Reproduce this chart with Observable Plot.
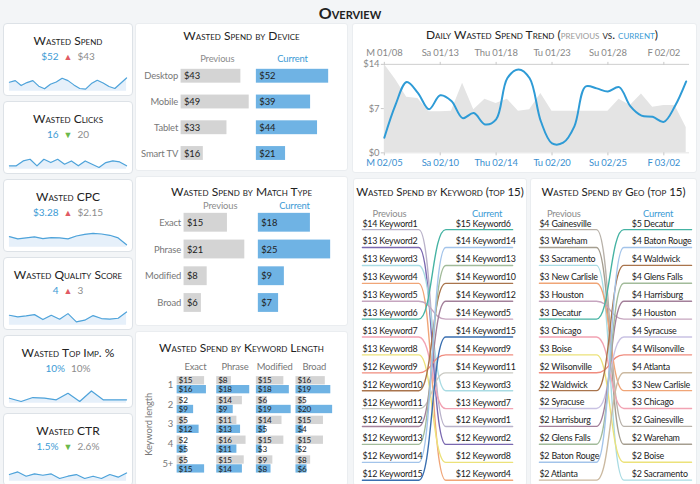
<!DOCTYPE html>
<html>
<head>
<meta charset="utf-8">
<script src="https://cdn.jsdelivr.net/npm/d3@7"></script>
<script src="https://cdn.jsdelivr.net/npm/@observablehq/plot@0.6"></script>
<style>
  html,body{margin:0;padding:0}
  body{width:700px;height:484px;background:#f3f5f7;font-family:Lato,"Open Sans",sans-serif;position:relative;overflow:hidden;color:#222}
  .panel{position:absolute;background:#fff;border:1px solid #eaedf0;box-sizing:border-box;border-radius:3px}
  .kpi{border-color:#dde2e7;border-radius:4px}
  .ptitle{position:absolute;left:0;right:0;text-align:center;font-variant:small-caps;font-size:12px;line-height:14px;color:#222;white-space:nowrap}
  .kval{position:absolute;left:0;right:0;text-align:center;font-size:10px;line-height:12px;white-space:nowrap}
  .panel svg{position:absolute;overflow:visible}
  #maintitle{position:absolute;left:0;width:700px;top:4px;text-align:center;font-variant:small-caps;font-size:16px;font-weight:700;line-height:18px;color:#222}
</style>
</head>
<body>
<div id="maintitle">Overview</div>
<script>
// ---------------- DATA ----------------
const seriesNames = ["Previous", "Current"];

const kpiNames = ["Wasted Spend", "Wasted Clicks", "Wasted CPC", "Wasted Quality Score", "Wasted Top Imp. %", "Wasted CTR"];
const kpiCurrent = ["$52", "16", "$3.28", "4", "10%", "1.5%"];
const kpiPrevious = ["$43", "20", "$2.15", "3", "10%", "2.6%"];
const kpiTrend = ["up", "down", "up", "up", "flat", "down"];
const sparkSpend = [27, 32, 17, 26, 32, 15, 7, 21, 28, 39, 32, 19, 8, 6, 23, 33, 25, 14, 8, 24, 40];
const sparkClicks = [10, 10, 25, 30, 10, 30, 20, 30, 15, 25, 10, 25, 15, 5, 20, 25, 22, 10];
const sparkCpc = [32, 25, 28, 31, 26, 29, 28, 25, 34, 39, 42, 40, 36, 28, 7];
const sparkQuality = [30, 25, 28, 32, 17, 30, 18, 35, 10, 15, 29, 20, 18, 21, 40];
const sparkTopImp = [15, 5, 17, 15, 10, 30, 5, 37, 10, 10, 10];
const sparkCtr = [20, 28, 15, 22, 18, 22, 8, 15, 20, 8, 15, 8, 20, 12, 25];

const devices = ["Desktop", "Mobile", "Tablet", "Smart TV"];
const devicePrev = [43, 49, 33, 16];
const deviceCur = [52, 39, 44, 21];

const matchTypes = ["Exact", "Phrase", "Modified", "Broad"];
const matchPrev = [15, 21, 8, 6];
const matchCur = [18, 25, 9, 7];

const kwLengths = ["1", "2", "3", "4", "5+"];
const lenPrevExact = [15, 2, 5, 2, 5];
const lenCurExact = [16, 9, 12, 5, 15];
const lenPrevPhrase = [8, 14, 11, 16, 15];
const lenCurPhrase = [18, 9, 13, 11, 14];
const lenPrevModified = [15, 6, 14, 15, 9];
const lenCurModified = [18, 19, 5, 3, 8];
const lenPrevBroad = [16, 5, 15, 15, 8];
const lenCurBroad = [19, 20, 4, 2, 6];

const prevDaily = [14.0, 11.6, 8.8, 8.6, 6.5, 6.5, 6.6, 11.0, 6.8, 8.5, 7.8, 8.5, 6.6, 6.8, 9.4, 6.6, 6.6, 6.6, 6.6, 6.6, 6.6, 8.5, 7.5, 9.3, 7.2, 7.5, 7.5, 4.0];
const curDaily = [2.4, 7.6, 11.2, 9.5, 6.9, 9.1, 8.2, 5.5, 6.3, 4.5, 5.3, 11.8, 13.2, 11.8, 5.0, 1.5, 1.6, 4.2, 10.5, 10.2, 9.7, 10.4, 7.4, 5.9, 5.7, 4.9, 7.4, 11.3];
const trendTickDays = [0, 5, 10, 15, 20, 25];
const prevTickLabels = ["M 01/08", "Sa 01/13", "Thu 01/18", "Tu 01/23", "Su 01/28", "F 02/02"];
const curTickLabels = ["M 02/05", "Sa 02/10", "Thu 02/14", "Tu 02/20", "Su 02/25", "F 03/02"];
const trendYTicks = [0, 7, 14];

const kwPrevNames = ["Keyword1", "Keyword2", "Keyword3", "Keyword4", "Keyword5", "Keyword6", "Keyword7", "Keyword8", "Keyword9", "Keyword10", "Keyword11", "Keyword12", "Keyword13", "Keyword14", "Keyword15"];
const kwPrevValues = [14, 13, 13, 13, 13, 13, 13, 13, 12, 12, 12, 12, 12, 12, 12];
const kwCurNames = ["Keyword6", "Keyword14", "Keyword13", "Keyword10", "Keyword12", "Keyword5", "Keyword15", "Keyword9", "Keyword11", "Keyword3", "Keyword7", "Keyword1", "Keyword2", "Keyword8", "Keyword4"];
const kwCurValues = [15, 14, 14, 14, 14, 14, 14, 14, 14, 13, 13, 12, 12, 12, 12];
const kwColors = ["#b9b2c9", "#7a68b0", "#a9dbe3", "#f0a577", "#c6a5bf", "#45b3a3", "#f2a3b3", "#ece27a", "#f08c7e", "#a9744c", "#c9c9c2", "#a3809a", "#a2bb9a", "#a3c4ea", "#3a6fb0"];

const geoPrevNames = ["Gainesville", "Wareham", "Sacramento", "New Carlisle", "Houston", "Decatur", "Chicago", "Boise", "Wilsonville", "Waldwick", "Syracuse", "Harrisburg", "Glens Falls", "Baton Rouge", "Atlanta"];
const geoPrevValues = [4, 3, 3, 3, 3, 3, 3, 3, 2, 2, 2, 2, 2, 2, 2];
const geoCurNames = ["Decatur", "Baton Rouge", "Waldwick", "Glens Falls", "Harrisburg", "Houston", "Syracuse", "Wilsonville", "Atlanta", "New Carlisle", "Chicago", "Gainesville", "Wareham", "Boise", "Sacramento"];
const geoCurValues = [5, 4, 4, 4, 4, 4, 4, 4, 4, 3, 3, 2, 2, 2, 2];
const geoColors = ["#b8b2aa", "#a59e90", "#a9dbe3", "#f0a577", "#c6a5bf", "#45b3a3", "#f2a3b3", "#ece27a", "#f08c7e", "#a9744c", "#c9c2e3", "#a3809a", "#a2bb9a", "#a3c4ea", "#cbb9a0"];

// ---------------- STYLE ----------------
const FONT = "Lato, 'Open Sans', sans-serif";
const BLUE_TEXT = "#3d9bd5";
const GREY_TEXT = "#8c8c8c";
const BAR_GREY = "#d4d4d4";
const BAR_BLUE = "#6fb3e4";
const baseStyle = {fontFamily: FONT, fontSize: "9.5px", color: "#777", background: "transparent", overflow: "visible", letterSpacing: "-0.15px"};

// ---------------- HELPERS ----------------
function panel(x, y, w, h, cls) {
  const d = document.createElement("div");
  d.className = "panel " + (cls || "");
  Object.assign(d.style, {left: x + "px", top: y + "px", width: w + "px", height: h + "px"});
  document.body.appendChild(d);
  return d;
}
function place(parent, node, x, y) {
  node.style.position = "absolute";
  node.style.left = x + "px";
  node.style.top = y + "px";
  parent.appendChild(node);
}
function title(parent, html, top, left, size) {
  const t = document.createElement("div");
  t.className = "ptitle";
  t.innerHTML = html;
  t.style.top = top + "px";
  if (left) t.style.left = left + "px";
  if (size) t.style.fontSize = size + "px";
  parent.appendChild(t);
  return t;
}

// ---------------- KPI CARDS ----------------
const sparks = [sparkSpend, sparkClicks, sparkCpc, sparkQuality, sparkTopImp, sparkCtr];
kpiNames.forEach((name, i) => {
  const p = panel(3, 23 + 78 * i, 130, 73, "kpi");
  title(p, name, 10);
  const v = document.createElement("div");
  v.className = "kval";
  v.style.top = "26px";
  const arrow = kpiTrend[i] === "up" ? '<span style="color:#e15b64;font-size:9px;margin:0 5px">▲</span>'
    : kpiTrend[i] === "down" ? '<span style="color:#6cb84a;font-size:9px;margin:0 5px">▼</span>'
    : '<span style="margin:0 3px"></span>';
  v.innerHTML = `<span style="color:${BLUE_TEXT}">${kpiCurrent[i]}</span>${arrow}<span style="color:${GREY_TEXT}">${kpiPrevious[i]}</span>`;
  p.appendChild(v);
  const vals = sparks[i];
  const sp = Plot.plot({
    width: 130, height: 26, marginLeft: 5, marginRight: 6, marginTop: 0, marginBottom: 2,
    x: {axis: null}, y: {domain: [0, 72], axis: null},
    style: baseStyle,
    marks: [
      Plot.areaY(vals, {x: (d, j) => j, y: d => d, fill: "#e6f0fa"}),
      Plot.lineY(vals, {x: (d, j) => j, y: d => d, stroke: "#4ea3da", strokeWidth: 1.2})
    ]
  });
  place(p, sp, 0, 43);
});

// ---------------- PAIRED BAR CHARTS ----------------
function pairBars(cats, prev, cur, xMax, o) {
  const rows = cats.flatMap((c, i) => [
    {cat: c, series: "Previous", value: prev[i]},
    {cat: c, series: "Current", value: cur[i]}
  ]);
  return Plot.plot({
    width: 213, height: o.height, marginLeft: o.ml, marginRight: o.mr, marginTop: o.mt, marginBottom: o.mb,
    fx: {domain: seriesNames, paddingInner: o.fxPad, paddingOuter: 0, axis: null},
    x: {domain: [0, xMax], axis: null},
    y: {domain: cats, paddingInner: o.pi, paddingOuter: o.po, tickSize: 0, tickPadding: 3, label: null},
    color: {domain: seriesNames, range: [BAR_GREY, BAR_BLUE]},
    style: baseStyle,
    marks: [
      Plot.barX(rows, {fx: "series", y: "cat", x: "value", fill: "series"}),
      Plot.text(rows, {fx: "series", y: "cat", frameAnchor: "left", dx: 3, text: d => "$" + d.value, textAnchor: "start", fill: "#222", fontSize: 9.5}),
      Plot.text(["Previous"], {fx: d => d, text: d => d, frameAnchor: "top", dy: o.hdy, fill: GREY_TEXT, fontSize: 9.5}),
      Plot.text(["Current"], {fx: d => d, text: d => d, frameAnchor: "top", dy: o.hdy, fill: BLUE_TEXT, fontSize: 9.5})
    ]
  });
}

const pDevice = panel(135, 23, 213, 148);
title(pDevice, "Wasted Spend by Device", 5);
place(pDevice, pairBars(devices, devicePrev, deviceCur, d3.max(deviceCur.concat(devicePrev)),
  {height: 120, ml: 45, mr: 19, mt: 14, mb: 2, fxPad: 0.04, pi: 0.47, po: 0.185, hdy: -8}), 0, 25);

const pMatch = panel(135, 176, 213, 150);
title(pMatch, "Wasted Spend by Match Type", 8);
place(pMatch, pairBars(matchTypes, matchPrev, matchCur, d3.max(matchCur.concat(matchPrev)),
  {height: 124, ml: 48, mr: 17, mt: 14, mb: 4, fxPad: 0.03, pi: 0.3, po: 0.09, hdy: -8}), 0, 19);

// ---------------- KEYWORD LENGTH ----------------
const lenPrev = [lenPrevExact, lenPrevPhrase, lenPrevModified, lenPrevBroad];
const lenCur = [lenCurExact, lenCurPhrase, lenCurModified, lenCurBroad];
const lenRows = [];
matchTypes.forEach((m, j) => kwLengths.forEach((L, i) => {
  lenRows.push({match: m, len: L, series: "Previous", value: lenPrev[j][i]});
  lenRows.push({match: m, len: L, series: "Current", value: lenCur[j][i]});
}));
const pLen = panel(135, 331, 213, 155);
title(pLen, "Wasted Spend by Keyword Length", 9);
place(pLen, Plot.plot({
  width: 213, height: 127, marginLeft: 41, marginRight: 15, marginTop: 18, marginBottom: 5,
  fx: {domain: matchTypes, paddingInner: 0.075, paddingOuter: 0, axis: "top", tickSize: 0, tickPadding: 5, label: null},
  fy: {domain: kwLengths, paddingInner: 0.04, paddingOuter: 0, axis: "left", tickSize: 0, tickPadding: 4,
       label: "Keyword length", labelAnchor: "center", labelOffset: 32},
  x: {domain: [0, d3.max(lenRows, d => d.value)], axis: null},
  y: {domain: seriesNames, padding: 0, axis: null},
  color: {domain: seriesNames, range: [BAR_GREY, BAR_BLUE]},
  style: baseStyle,
  marks: [
    Plot.barX(lenRows, {fx: "match", fy: "len", y: "series", x: "value", fill: "series", insetTop: 0.3, insetBottom: 0.3}),
    Plot.text(lenRows, {fx: "match", fy: "len", y: "series", frameAnchor: "left", dx: 1.5, text: d => "$" + d.value, textAnchor: "start", fill: "#222", fontSize: 8.2})
  ]
}), 0, 23);

// ---------------- DAILY TREND ----------------
const pTrend = panel(352, 23, 345, 150);
title(pTrend, `Daily Wasted Spend Trend (<span style="color:#9a9a9a">previous</span> vs. <span style="color:${BLUE_TEXT}">current</span>)`, 4, 35);
place(pTrend, Plot.plot({
  width: 345, height: 132, marginLeft: 31, marginRight: 7, marginTop: 23, marginBottom: 20,
  x: {domain: [0, 27.3]}, y: {domain: [trendYTicks[0], trendYTicks[2]]},
  style: baseStyle,
  marks: [
    Plot.areaY(prevDaily, {x: (d, i) => i, y: d => d, fill: "#e4e4e4"}),
    Plot.ruleY([trendYTicks[2]], {stroke: "#cfcfcf"}),
    Plot.ruleY([trendYTicks[0]], {stroke: "#e4e4e4"}),
    Plot.lineY(curDaily, {x: (d, i) => i, y: d => d, stroke: "#2e9bd6", strokeWidth: 2, curve: "catmull-rom"}),
    Plot.axisX({anchor: "top", ticks: trendTickDays, tickFormat: d => prevTickLabels[trendTickDays.indexOf(d)], tickSize: 3, tickPadding: 5, fill: "#888", stroke: "#c8c8c8", label: null}),
    Plot.axisX({anchor: "bottom", ticks: trendTickDays, tickFormat: d => curTickLabels[trendTickDays.indexOf(d)], tickSize: 3, tickPadding: 3, fill: "#3a8fd0", stroke: "#c8c8c8", label: null}),
    Plot.axisY({ticks: trendYTicks, tickFormat: d => "$" + d, tickSize: 3, tickPadding: 2, fill: "#888", stroke: "#c8c8c8", label: null})
  ]
}), 0, 17);

// ---------------- BUMP CHARTS ----------------
function bumpChart(prevNames, prevValues, curNames, curValues, colors, o) {
  const A = 0.375, B = 0.555;
  const pts = prevNames.flatMap((n, i) => {
    const r0 = i + 1, r1 = curNames.indexOf(n) + 1;
    return [{name: n, x: 0, rank: r0}, {name: n, x: A, rank: r0}, {name: n, x: B, rank: r1}, {name: n, x: 1, rank: r1}];
  });
  const left = prevNames.map((n, i) => ({name: n, rank: i + 1, label: `$${prevValues[i]} ${n}`}));
  const right = curNames.map((n, i) => ({name: n, rank: i + 1, label: `$${curValues[i]} ${n}`}));
  return Plot.plot({
    width: o.width, height: 286, marginLeft: 8, marginRight: o.mr, marginTop: 30.5, marginBottom: 2,
    x: {domain: [0, 1], axis: null},
    y: {domain: [1, prevNames.length], reverse: true, axis: null},
    color: {domain: prevNames, range: colors},
    style: {...baseStyle, letterSpacing: "-0.2px"},
    marks: [
      Plot.line(pts, {x: "x", y: "rank", z: "name", stroke: "name", strokeWidth: 1.4, curve: "bump-x"}),
      Plot.text(left, {y: "rank", frameAnchor: "left", text: "label", textAnchor: "start", dy: -6, fill: "#222", fontSize: 9}),
      Plot.text(right, {x: B, y: "rank", dx: o.rdx, text: "label", textAnchor: "start", dy: -6, fill: "#222", fontSize: 9}),
      Plot.text(["Previous"], {x: o.hx[0], frameAnchor: "top", dy: -19.5, text: d => d, fill: GREY_TEXT, fontSize: 9.5}),
      Plot.text(["Current"], {x: o.hx[1], frameAnchor: "top", dy: -19.5, text: d => d, fill: BLUE_TEXT, fontSize: 9.5})
    ]
  });
}

const pKw = panel(353, 178, 174, 308);
title(pKw, "Wasted Spend by Keyword (top 15)", 6, 0, 11.5);
place(pKw, bumpChart(kwPrevNames, kwPrevValues, kwCurNames, kwCurValues, kwColors,
  {width: 174, mr: 14, rdx: 10, hx: [0.18, 0.83]}), 0, 20);

const pGeo = panel(530, 178, 167, 308);
title(pGeo, "Wasted Spend by Geo (top 15)", 6, 0, 11.5);
place(pGeo, bumpChart(geoPrevNames, geoPrevValues, geoCurNames, geoCurValues, geoColors,
  {width: 167, mr: 5, rdx: 8, hx: [0.16, 0.78]}), 0, 20);
</script>
</body>
</html>
